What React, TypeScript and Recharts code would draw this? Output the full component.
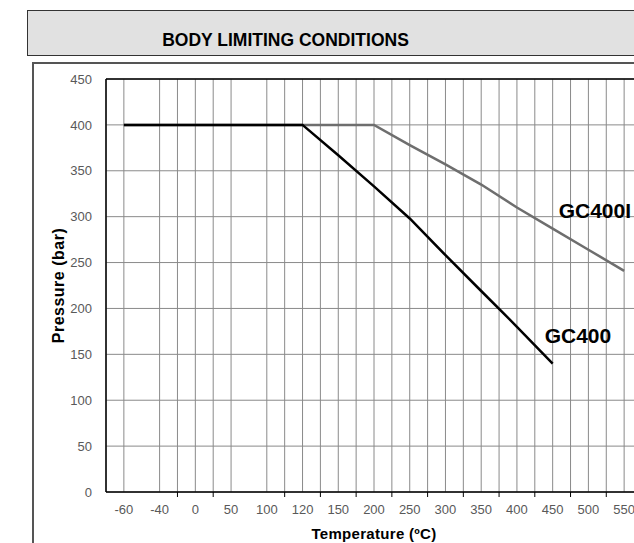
import React, { useLayoutEffect } from 'react';
import { LineChart, Line, XAxis, YAxis, CartesianGrid, ReferenceLine, LabelList } from 'recharts';

// temperature categories (ºC), evenly spaced on the axis
const temps = ['-60', '-40', '0', '50', '100', '120', '150', '200', '250', '300', '350', '400', '450', '500', '550'];
// pressure limits (bar)
const gc400 = [400, 400, 400, 400, 400, 400, 367, 333, 298, 258, 219, 180, 140, null, null];
const gc400i = [400, 400, 400, 400, 400, 400, 400, 400, 378, 357, 335, 310, 287, 264, 241];
// vertical grid / tick positions (category index, halves are boundaries)
const gridTicks = [0, 1, 1.5, 2, 2.5, 3, 4, 4.5, 5, 5.5, 6, 6.5, 7, 7.5, 8, 8.5, 9, 9.5, 10, 10.5, 11, 11.5, 12, 12.5, 13, 13.5, 14];
const pressureTicks = [0, 50, 100, 150, 200, 250, 300, 350, 400, 450];

const data = temps.map((t, i) => ({ i, temp: t, gc400: gc400[i], gc400i: gc400i[i] }));

const FONT = '"Liberation Sans", Arial, sans-serif';

const XTick = (props: any) => {
  const { x, y, payload } = props;
  const v = payload.value;
  if (Number.isInteger(v)) {
    return (
      <text x={x} y={y + 22} textAnchor="middle" fill="#595959" fontSize={13} fontFamily={FONT}>
        {temps[v]}
      </text>
    );
  }
  return <line x1={x} x2={x} y1={y} y2={y + 5} stroke="#000" strokeWidth={1} />;
};

// series name written next to a chosen point
const tagAt = (idx: number, text: string, dx: number, dy: number) => (p: any) => {
  if (p.index !== idx) return null;
  return (
    <text
      x={p.x + dx}
      y={p.y + dy}
      fontSize={21}
      fontWeight="bold"
      fontFamily={FONT}
      fill="#000"
      dominantBaseline="central"
    >
      {text}
    </text>
  );
};

const App: React.FC = () => {
  // the chart runs off the right and bottom edges, so drop the page margin
  useLayoutEffect(() => {
    document.body.style.margin = '0';
  }, []);

  return (
    <div
      style={{
        position: 'relative',
        width: 634,
        height: 543,
        overflow: 'hidden',
        background: '#fff',
        fontFamily: FONT,
      }}
    >
      <div
        style={{
          position: 'absolute',
          left: 27,
          top: 10,
          width: 700,
          height: 46,
          boxSizing: 'border-box',
          border: '1.5px solid #333',
          background: '#e1e1e1',
        }}
      />
      <div
        style={{
          position: 'absolute',
          left: 0,
          top: 30,
          width: 571,
          textAlign: 'center',
          fontSize: 17.5,
          lineHeight: '20px',
          fontWeight: 'bold',
          color: '#000',
        }}
      >
        BODY LIMITING CONDITIONS
      </div>
      <div
        style={{
          position: 'absolute',
          left: 32,
          top: 62,
          width: 700,
          height: 600,
          boxSizing: 'border-box',
          border: '2px solid #555',
        }}
      />
      <div style={{ position: 'absolute', left: 0, top: 0 }}>
        <LineChart width={700} height={543} data={data} margin={{ top: 79, right: 58, left: 46, bottom: 21 }}>
          <CartesianGrid stroke="#8a8a8a" strokeWidth={1} />
          <XAxis
            dataKey="i"
            type="number"
            domain={[-0.5, 14.5]}
            ticks={gridTicks}
            interval={0}
            height={30}
            axisLine={{ stroke: '#000', strokeWidth: 1.5 }}
            tickLine={false}
            tickSize={0}
            tickMargin={0}
            tick={<XTick />}
            label={{
              content: (p: any) => {
                const vb = p.viewBox;
                return (
                  <text
                    x={vb.x + vb.width / 2}
                    y={vb.y + 41}
                    textAnchor="middle"
                    dominantBaseline="central"
                    fontSize={15}
                    fontWeight="bold"
                    letterSpacing={0.3}
                    fontFamily={FONT}
                    fill="#000"
                  >
                    Temperature (ºC)
                  </text>
                );
              },
            }}
          />
          <YAxis
            type="number"
            domain={[0, 450]}
            ticks={pressureTicks}
            width={60}
            axisLine={{ stroke: '#000', strokeWidth: 1.5 }}
            tickLine={false}
            tickSize={0}
            tickMargin={14}
            tick={{ fill: '#595959', fontSize: 13, fontFamily: FONT }}
            label={{
              content: (p: any) => {
                const vb = p.viewBox;
                const cx = vb.x + 12;
                const cy = vb.y + vb.height / 2;
                return (
                  <text
                    x={cx}
                    y={cy}
                    transform={`rotate(-90, ${cx}, ${cy})`}
                    textAnchor="middle"
                    dominantBaseline="central"
                    fontSize={16}
                    fontWeight="bold"
                    letterSpacing={0.5}
                    fontFamily={FONT}
                    fill="#000"
                  >
                    Pressure (bar)
                  </text>
                );
              },
            }}
          />
          <ReferenceLine y={450} stroke="#000" strokeWidth={1.5} />
          <Line
            type="linear"
            dataKey="gc400i"
            stroke="#6e6e6e"
            strokeWidth={2.5}
            dot={false}
            isAnimationActive={false}
          >
            <LabelList dataKey="gc400i" content={tagAt(12, 'GC400I', 6, -18)} />
          </Line>
          <Line
            type="linear"
            dataKey="gc400"
            stroke="#000"
            strokeWidth={2.5}
            dot={false}
            connectNulls={false}
            isAnimationActive={false}
          >
            <LabelList dataKey="gc400" content={tagAt(12, 'GC400', -8, -28)} />
          </Line>
        </LineChart>
      </div>
    </div>
  );
};

export default App;
